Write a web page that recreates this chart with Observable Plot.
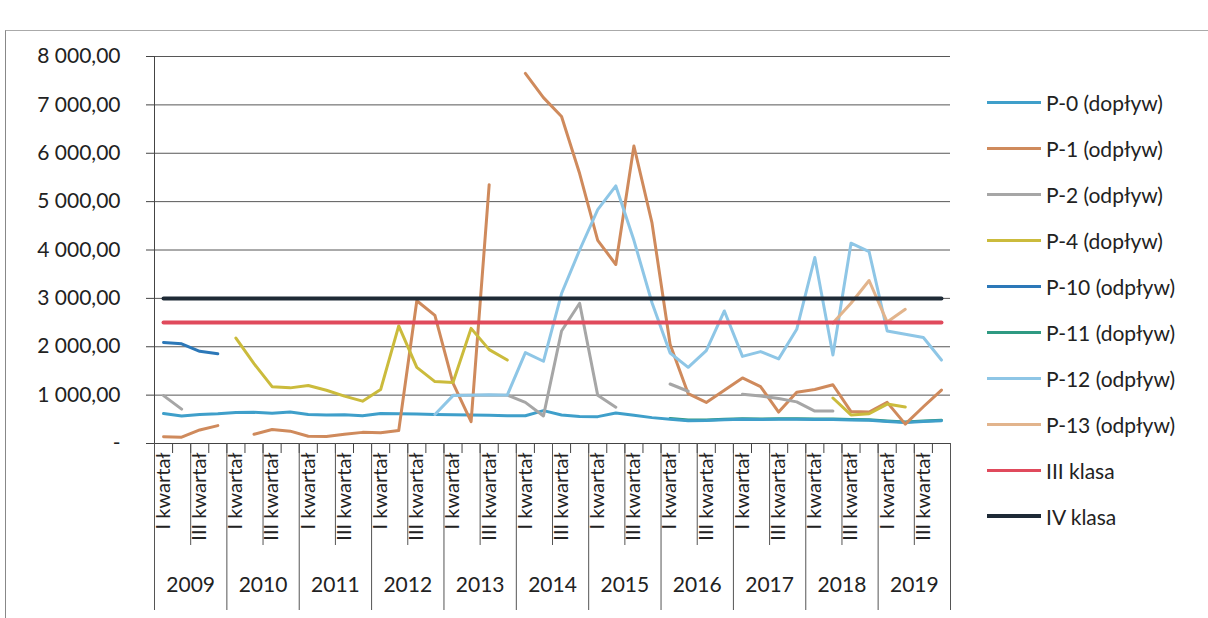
<!DOCTYPE html>
<html><head><meta charset="utf-8">
<script src="https://cdn.jsdelivr.net/npm/d3@7"></script>
<script src="https://cdn.jsdelivr.net/npm/@observablehq/plot@0.6"></script>
<style>
body{margin:0;background:#fff;font-family:Lato,"Noto Sans",sans-serif;}
#wrap{position:relative;width:1208px;height:618px;overflow:hidden;background:#fff;}
#frame{position:absolute;left:5px;top:30px;width:1220px;height:620px;border-left:1.5px solid #888;border-top:1.5px solid #aaa;}
#chart{position:absolute;left:0;top:0;}
#legend{position:absolute;left:987px;top:79px;}
.item{display:flex;align-items:center;height:46px;font-size:21px;color:#222;white-space:nowrap;}
.sw{width:54px;height:3px;margin-right:5px;}
</style></head>
<body><div id="wrap"><div id="frame"></div><div id="chart"></div><div id="legend"></div></div>
<script>
const years = [2009,2010,2011,2012,2013,2014,2015,2016,2017,2018,2019];
const quarters = ["I kwartał","II kwartał","III kwartał","IV kwartał"];
const seriesNames = ["P-0 (dopływ)","P-1 (odpływ)","P-2 (odpływ)","P-4 (dopływ)","P-10 (odpływ)","P-11 (dopływ)","P-12 (odpływ)","P-13 (odpływ)"];
const seriesColors = ["#3f9fca","#cf8a5c","#a6a6a6","#cbbb3c","#2c78b8","#2f9a82","#8ec6e6","#e2b48c"];
const classNames = ["III klasa","IV klasa"];
const classColors = ["#e04a5c","#1e2a36"];
const classValues = [2500,3000];
const _ = null;
// quarterly values, 2009 Q1 ... 2019 Q4
const p0  = [620,570,600,615, 640,645,625,650, 600,590,595,575, 620,615,610,600, 595,590,585,575, 575,680,590,560, 555,630,585,535, 500,470,475,490, 500,495,500,500, 495,495,485,480, 455,435,455,470];
const p1  = [140,130,280,370, _,190,290,255, 150,145,190,230, 220,270,2950,2650, 1250,450,5350,_, 7650,7150,6760,5580, 4200,3700,6150,4560, 2050,1030,850,1100, 1355,1175,650,1060, 1115,1215,660,650, 850,400,760,1105];
const p2  = [990,710,_,_, _,_,_,_, _,_,_,_, _,_,_,_, 1000,1000,1000,1000, 850,570,2325,2900, 995,750,_,_, 1230,1080,_,_, 1020,980,930,860, 670,670,_,_, _,_,_,_];
const p4  = [_,_,_,_, 2180,1650,1175,1150, 1200,1100,980,875, 1115,2430,1575,1280, 1260,2380,1940,1725, _,_,_,_, _,_,_,_, _,_,_,_, _,_,_,_, _,940,590,615, 815,755,_,_];
const p10 = [2090,2060,1905,1855, _,_,_,_, _,_,_,_, _,_,_,_, _,_,_,_, _,_,_,_, _,_,_,_, _,_,_,_, _,_,_,_, _,_,_,_, _,_,_,_];
const p11 = [_,_,_,_, _,_,_,_, _,_,_,_, _,_,_,_, _,_,_,_, _,_,_,_, _,_,_,_, 515,485,485,500, 510,505,510,510, 505,505,495,490, 465,445,465,480];
const p12 = [_,_,_,_, _,_,_,_, _,_,_,_, _,_,_,600, 990,1000,1010,1000, 1880,1700,3100,4000, 4835,5325,4200,2910, 1870,1575,1920,2740, 1800,1900,1750,2360, 3845,1830,4140,3965, 2325,2260,2190,1725];
const p13 = [_,_,_,_, _,_,_,_, _,_,_,_, _,_,_,_, _,_,_,_, _,_,_,_, _,_,_,_, _,_,_,_, _,_,_,_, _,2490,2900,3370, 2510,2775,_,_];
const seriesValues = [p0,p1,p2,p4,p10,p11,p12,p13];
// P-11 lies beneath P-0, so it is painted first
const drawOrder = [5,0,1,2,3,4,6,7];

const nQ = years.length * quarters.length;
const idx = d3.range(nQ);
const rows = [];
drawOrder.forEach(s => seriesValues[s].forEach((v, i) => rows.push({series: seriesNames[s], i, v: v == null ? NaN : v})));
const classRows = [];
classNames.forEach((name, c) => idx.forEach(i => classRows.push({series: name, i, v: classValues[c]})));

const loc = d3.formatLocale({decimal: ",", thousands: "\u00a0", grouping: [3], currency: ["", ""]});
const fmt = loc.format(",.2f");
const yTicks = d3.range(0, 8001, 1000);

const font = "Lato, 'Noto Sans', sans-serif";
const chart = Plot.plot({
  width: 1208, height: 618,
  marginLeft: 154, marginRight: 258, marginTop: 56, marginBottom: 175,
  style: {fontFamily: font, background: "transparent", color: "#222"},
  x: {domain: [-0.5, nQ - 0.5], axis: null},
  y: {domain: [0, 8000], axis: null},
  color: {domain: [...seriesNames, ...classNames], range: [...seriesColors, ...classColors]},
  marks: [
    Plot.gridY(yTicks.filter(d => d > 0), {stroke: "#3a3a3a", strokeOpacity: 0.85, strokeWidth: 1}),
    Plot.ruleY([0], {stroke: "#444", strokeWidth: 1}),
    Plot.ruleX([-0.5], {stroke: "#444", strokeWidth: 1}),
    Plot.axisY(yTicks, {tickSize: 8, tickPadding: 26, fontSize: 21, tickFormat: d => d === 0 ? "-" : fmt(d), label: null, stroke: "#444"}),
    Plot.axisX(d3.range(nQ + 1).map(k => k - 0.5), {tickSize: 10, tickFormat: () => "", label: null, stroke: "#444"}),
    Plot.axisX(d3.range(years.length).map(k => k * 4 + 1.5), {tickSize: 102, tickFormat: () => "", label: null, stroke: "#555"}),
    Plot.axisX(d3.range(years.length + 1).map(k => k * 4 - 0.5), {tickSize: 167, tickFormat: () => "", label: null, stroke: "#555"}),
    Plot.axisX(idx.filter(i => i % 2 === 0), {tickSize: 0, tickPadding: 9, tickRotate: -90, fontSize: 20, tickFormat: i => quarters[i % 4], label: null}),
    Plot.axisX(years.map((y, k) => k * 4 + 1.5), {tickSize: 0, tickPadding: 134, fontSize: 21, tickFormat: v => String(years[Math.round((v - 1.5) / 4)]), label: null}),
    Plot.line(rows, {x: "i", y: "v", z: "series", stroke: "series", strokeWidth: 3, strokeLinejoin: "round", strokeLinecap: "round"}),
    Plot.line(classRows, {x: "i", y: "v", z: "series", stroke: "series", strokeWidth: 4})
  ]
});
document.getElementById("chart").appendChild(chart);

const legend = document.getElementById("legend");
[...seriesNames, ...classNames].forEach((name, k) => {
  const color = [...seriesColors, ...classColors][k];
  const item = document.createElement("div");
  item.className = "item";
  const sw = document.createElement("div");
  sw.className = "sw";
  sw.style.background = color;
  if (k === seriesNames.length + 1) sw.style.height = "4px";
  const t = document.createElement("span");
  t.textContent = name;
  item.appendChild(sw); item.appendChild(t);
  legend.appendChild(item);
});
</script>
</body></html>
